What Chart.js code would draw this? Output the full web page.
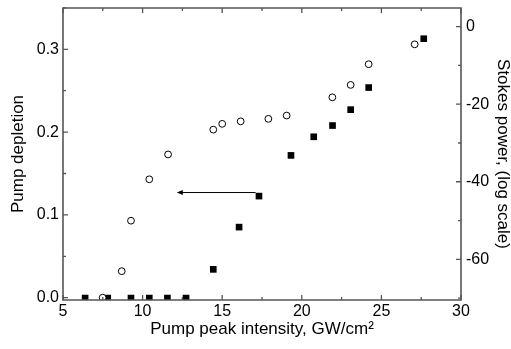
<!DOCTYPE html>
<html>
<head>
<meta charset="utf-8">
<script src="https://cdn.jsdelivr.net/npm/chart.js@4/dist/chart.umd.min.js"></script>
<style>
  html, body { margin: 0; padding: 0; background: #fff; }
  #wrap { width: 511px; height: 349px; }
</style>
</head>
<body>
<div id="wrap"><canvas id="c" width="511" height="349"></canvas></div>
<script>
// ---- data ----
const depletionX = [7.49, 8.69, 9.27, 10.42, 11.6, 14.44, 15.0, 16.16, 17.9, 19.05, 21.92, 23.07, 24.2, 27.09];
const depletionY = [0.0, 0.032, 0.093, 0.143, 0.173, 0.203, 0.210, 0.213, 0.216, 0.220, 0.242, 0.257, 0.282, 0.306];
const stokesX = [6.39, 7.81, 9.27, 10.42, 11.56, 12.73, 14.44, 16.06, 17.31, 19.32, 20.75, 21.93, 23.07, 24.2, 27.66];
const stokesY = [-70, -70, -70, -70, -70, -70, -62.6, -51.7, -43.7, -33.2, -28.4, -25.5, -21.4, -15.7, -3.1];

const xTicks = [5, 10, 15, 20, 25, 30];
const xMinorTicks = [7.5, 12.5, 17.5, 22.5, 27.5];
const leftTicks = [0.0, 0.1, 0.2, 0.3];
const leftMinorTicks = [0.05, 0.15, 0.25, 0.35];
const rightTicks = [0, -20, -40, -60];
const rightMinorTicks = [-10, -30, -50, -70];

const arrowFrom = [17.1, 0.127];
const arrowTo = [12.15, 0.127];

const xTitle = 'Pump peak intensity, GW/cm\u00B2';
const leftTitle = 'Pump depletion';
const rightTitle = 'Stokes power, (log scale)';

// ---- chart ----
const FONT = "'Liberation Sans', Arial, sans-serif";
const AXIS_COLOR = '#555';

const frameTicks = {
  id: 'frameTicks',
  afterDatasetsDraw(chart) {
    const {ctx, chartArea: a, scales} = chart;
    const x = scales.x, yl = scales.y, yr = scales.y2;
    ctx.save();
    ctx.strokeStyle = AXIS_COLOR;
    ctx.lineWidth = 1.6;
    ctx.beginPath();
    ctx.rect(a.left, a.top, a.right - a.left, a.bottom - a.top);
    ctx.stroke();
    ctx.lineWidth = 1.3;
    const major = 5, minor = 3;
    ctx.beginPath();
    const hx = (v, len) => {
      const p = x.getPixelForValue(v);
      ctx.moveTo(p, a.bottom); ctx.lineTo(p, a.bottom - len);
      ctx.moveTo(p, a.top); ctx.lineTo(p, a.top + len);
    };
    xTicks.forEach(v => hx(v, major));
    xMinorTicks.forEach(v => hx(v, minor));
    const hl = (v, len) => {
      const p = yl.getPixelForValue(v);
      ctx.moveTo(a.left, p); ctx.lineTo(a.left + len, p);
    };
    leftTicks.forEach(v => hl(v, major));
    leftMinorTicks.forEach(v => hl(v, minor));
    const hr = (v, len) => {
      const p = yr.getPixelForValue(v);
      ctx.moveTo(a.right, p); ctx.lineTo(a.right - len, p);
    };
    rightTicks.forEach(v => hr(v, major));
    rightMinorTicks.forEach(v => hr(v, minor));
    ctx.stroke();

    // arrow
    const x1 = x.getPixelForValue(arrowFrom[0]), y1 = yl.getPixelForValue(arrowFrom[1]);
    const x2 = x.getPixelForValue(arrowTo[0]), y2 = yl.getPixelForValue(arrowTo[1]);
    ctx.strokeStyle = '#000';
    ctx.fillStyle = '#000';
    ctx.lineWidth = 1;
    ctx.beginPath();
    ctx.moveTo(x1, y1); ctx.lineTo(x2 + 3, y2);
    ctx.stroke();
    ctx.beginPath();
    ctx.moveTo(x2, y2);
    ctx.lineTo(x2 + 6, y2 - 2.5);
    ctx.lineTo(x2 + 6, y2 + 2.5);
    ctx.closePath();
    ctx.fill();
    ctx.restore();
  }
};

function setBuiltTicks(list) {
  return function(scale) { scale.ticks = list.map(v => ({value: v})); };
}

new Chart(document.getElementById('c'), {
  type: 'scatter',
  data: {
    datasets: [
      {
        label: leftTitle,
        data: depletionX.map((v, i) => ({x: v, y: depletionY[i]})),
        yAxisID: 'y',
        pointStyle: 'circle',
        pointRadius: 3.4,
        pointBorderWidth: 1,
        pointBorderColor: '#000',
        pointBackgroundColor: '#fff'
      },
      {
        label: rightTitle,
        data: stokesX.map((v, i) => ({x: v, y: stokesY[i]})),
        yAxisID: 'y2',
        pointStyle: 'rect',
        pointRadius: 4.7,
        pointBorderWidth: 0,
        pointBorderColor: '#000',
        pointBackgroundColor: '#000'
      }
    ]
  },
  options: {
    responsive: false,
    animation: false,
    devicePixelRatio: 1,
    layout: { padding: { top: 8, left: 0, right: 0, bottom: 0 } },
    plugins: { legend: { display: false }, tooltip: { enabled: false } },
    scales: {
      x: {
        type: 'linear', position: 'bottom', min: 5, max: 30,
        afterBuildTicks: setBuiltTicks(xTicks),
        afterFit(s) { s.height = 49; s.paddingLeft = 0; s.paddingRight = 0; },
        grid: { display: false, drawTicks: false, tickLength: 0 },
        border: { display: false },
        ticks: { color: '#000', font: { family: FONT, size: 16 }, padding: 2, maxRotation: 0, autoSkip: false },
        title: { display: true, text: xTitle, color: '#000', font: { family: FONT, size: 17 }, padding: { top: 0, bottom: 9 } }
      },
      y: {
        type: 'linear', position: 'left', min: -0.0028, max: 0.3499,
        afterBuildTicks: setBuiltTicks(leftTicks),
        afterFit(s) { s.width = 63; s.paddingTop = 0; s.paddingBottom = 0; },
        grid: { display: false, drawTicks: false, tickLength: 0 },
        border: { display: false },
        ticks: { color: '#000', font: { family: FONT, size: 16 }, padding: 4, autoSkip: false,
                 callback: v => v.toFixed(1) },
        title: { display: true, text: leftTitle, color: '#000', font: { family: FONT, size: 17 }, padding: { top: 8, bottom: 0 } }
      },
      y2: {
        type: 'linear', position: 'right', min: -70.5, max: 4.82,
        afterBuildTicks: setBuiltTicks(rightTicks),
        afterFit(s) { s.width = 50; s.paddingTop = 0; s.paddingBottom = 0; },
        grid: { display: false, drawTicks: false, tickLength: 0 },
        border: { display: false },
        ticks: { color: '#000', font: { family: FONT, size: 16 }, padding: 5, autoSkip: false,
                 callback: v => String(v) },
        title: { display: true, text: rightTitle, color: '#000', font: { family: FONT, size: 17, lineHeight: 1 }, padding: { top: 0, bottom: 0 } }
      }
    }
  },
  plugins: [frameTicks]
});
</script>
</body>
</html>
